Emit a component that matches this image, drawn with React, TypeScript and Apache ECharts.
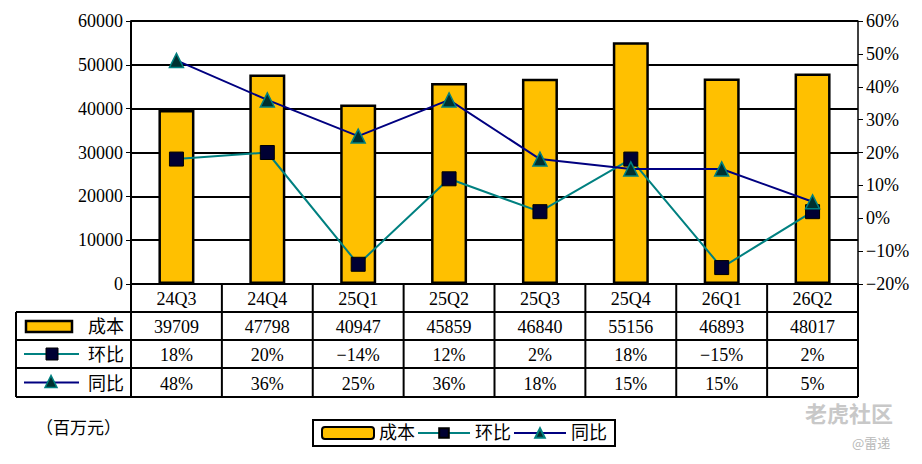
import { useEffect, useRef } from 'react';
import * as echarts from 'echarts';

const categories = ['24Q3', '24Q4', '25Q1', '25Q2', '25Q3', '25Q4', '26Q1', '26Q2'];
const cost = [39709, 47798, 40947, 45859, 46840, 55156, 46893, 48017];
const qoq = [18, 20, -14, 12, 2, 18, -15, 2];
const yoy = [48, 36, 25, 36, 18, 15, 15, 5];

const FONT = '"Liberation Serif", "Noto Sans CJK SC", serif';
const GL = 131, GR = 858, GT = 21, GB = 284;

export default function App() {
  const ref = useRef<HTMLDivElement>(null);

  useEffect(() => {
    if (!ref.current) return;
    const chart = echarts.init(ref.current, null, { renderer: 'svg' });
    const w = (GR - GL) / categories.length;
    const rows = [284, 312, 340, 368, 397];
    const g: any[] = [];
    const line = (x1: number, y1: number, x2: number, y2: number, lw = 2) =>
      g.push({ type: 'line', shape: { x1, y1, x2, y2 }, style: { stroke: '#000', lineWidth: lw } });
    const txt = (x: number, y: number, t: string, align = 'center') =>
      g.push({ type: 'text', x, y, style: { text: t, fill: '#000', font: `18px ${FONT}`, align, verticalAlign: 'middle' } });

    // table grid
    line(16, rows[1], GR, rows[1]);
    line(GL, rows[0], GL, rows[4]);
    for (let r = 2; r < 5; r++) line(16, rows[r], GR, rows[r]);
    line(16, rows[1], 16, rows[4]);
    for (let i = 1; i <= categories.length; i++) line(GL + i * w, rows[0], GL + i * w, rows[4]);
    const rowData = [cost.map(String), qoq.map((v) => (v < 0 ? '\u2212' + -v : v) + '%'), yoy.map((v) => v + '%')];
    categories.forEach((c, i) => {
      const cx = GL + (i + 0.5) * w;
      txt(cx, (rows[0] + rows[1]) / 2 + 1, c);
      rowData.forEach((rd, r) => txt(cx, (rows[r + 1] + rows[r + 2]) / 2 + 1, rd[i]));
    });
    // row labels
    const names = ['成本', '环比', '同比'];
    names.forEach((n, r) => txt(88, (rows[r + 1] + rows[r + 2]) / 2 + 1, n, 'left'));
    const cy = (r: number) => (rows[r + 1] + rows[r + 2]) / 2;
    g.push({ type: 'rect', shape: { x: 26, y: cy(0) - 5, width: 46, height: 11 }, style: { fill: '#FFC000', stroke: '#000', lineWidth: 2.5 } });
    g.push({ type: 'line', shape: { x1: 24, y1: cy(1), x2: 79, y2: cy(1) }, style: { stroke: '#008080', lineWidth: 2 } });
    g.push({ type: 'rect', shape: { x: 46, y: cy(1) - 6, width: 12, height: 12 }, style: { fill: '#000033', stroke: '#000' } });
    g.push({ type: 'line', shape: { x1: 24, y1: cy(2), x2: 79, y2: cy(2) }, style: { stroke: '#000080', lineWidth: 2 } });
    g.push({ type: 'polygon', shape: { points: [[51, cy(2) - 7], [45, cy(2) + 5], [57, cy(2) + 5]] }, style: { fill: '#003030', stroke: '#008080', lineWidth: 1.5 } });
    g.push({ type: 'text', x: 36, y: 428, style: { text: '（百万元）', fill: '#000', font: `17px ${FONT}`, verticalAlign: 'middle' } });
    g.push({ type: 'text', x: 805, y: 412, style: { text: '老虎社区', fill: '#c8c8c8', font: `bold 22px "Noto Sans CJK SC"`, verticalAlign: 'middle' } });
    g.push({ type: 'text', x: 852, y: 442, style: { text: '@雷递', fill: '#b8b8b8', font: `13px "Noto Sans CJK SC"`, verticalAlign: 'middle' } });

    const axisLabel = { color: '#000', fontSize: 18, fontFamily: FONT };
    chart.setOption({
      animation: false,
      textStyle: { fontFamily: FONT },
      grid: { left: GL, right: 922 - GR, top: GT, bottom: 464 - GB },
      xAxis: {
        type: 'category', data: categories,
        axisLine: { lineStyle: { color: '#000', width: 2 } }, axisTick: { show: false }, axisLabel: { show: false },
      },
      yAxis: [
        {
          type: 'value', min: 0, max: 60000, interval: 10000,
          axisLine: { show: true, lineStyle: { color: '#000', width: 2 } },
          axisTick: { show: true, length: 5, lineStyle: { color: '#000' } },
          axisLabel: { ...axisLabel, formatter: (v: number) => String(v) },
          splitLine: { lineStyle: { color: '#000', width: 2 } },
        },
        {
          type: 'value', min: -20, max: 60, interval: 10,
          axisLine: { show: true, lineStyle: { color: '#000', width: 1.5 } },
          axisTick: { show: true, length: 5, lineStyle: { color: '#000' } },
          axisLabel: { ...axisLabel, formatter: (v: number) => (v < 0 ? '\u2212' + -v : v) + '%' },
          splitLine: { show: false },
        },
      ],
      legend: {
        left: 313, top: 420, itemWidth: 52, itemHeight: 12, itemGap: 2,
        borderColor: '#000', borderWidth: 2, padding: [4, 8],
        textStyle: { color: '#000', fontSize: 18, fontFamily: FONT },
        data: ['成本', '环比', '同比'],
      },
      series: [
        {
          name: '成本', type: 'bar', data: cost, barWidth: 36,
          itemStyle: { color: '#FFC000', borderColor: '#000', borderWidth: 2.5 },
        },
        {
          name: '环比', type: 'line', yAxisIndex: 1, data: qoq,
          symbol: 'rect', symbolSize: 14,
          lineStyle: { color: '#008080', width: 2 },
          itemStyle: { color: '#000033', borderColor: '#000', borderWidth: 1 },
        },
        {
          name: '同比', type: 'line', yAxisIndex: 1, data: yoy,
          symbol: 'triangle', symbolSize: 14,
          lineStyle: { color: '#000080', width: 2 },
          itemStyle: { color: '#003030', borderColor: '#008080', borderWidth: 1.5 },
        },
      ],
      graphic: g,
    });
    return () => chart.dispose();
  }, []);

  return <div ref={ref} style={{ width: 922, height: 464, margin: -8 }} />;
}
